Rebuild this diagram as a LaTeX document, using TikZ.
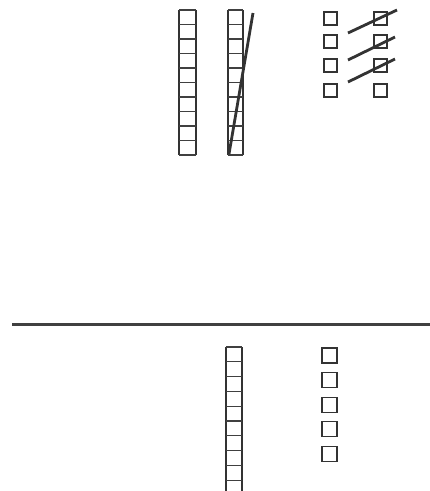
\documentclass[tikz,border=0pt]{standalone}
\begin{document}
\begin{tikzpicture}[x=1pt,y=-1pt,
  rail/.style={draw=black!80,line width=1.5pt},
  rung/.style={draw=black!75,line width=1.2pt},
  box/.style={draw=black!80,line width=1.2pt},
  slash/.style={draw=black!80,line width=2.8pt},
  ground/.style={draw=black!75,line width=3pt}]
\useasboundingbox (0,0) rectangle (430,491);
% ladder 1
\draw[rail] (179,10) -- (179,155) (196,10) -- (196,155);
\foreach \i in {0,...,10} \draw[rung] (179,10+14.5*\i) -- (196,10+14.5*\i);
% ladder 2
\draw[rail] (228,10) -- (228,155) (243,10) -- (243,155);
\foreach \i in {0,...,10} \draw[rung] (228,10+14.5*\i) -- (243,10+14.5*\i);
\draw[slash] (253,13) -- (229,154);
% boxes top
\foreach \y in {12,35,59,84} {
  \draw[box] (324,\y) rectangle (337,\y+13);
  \draw[box] (374,\y) rectangle (387,\y+13);
}
\draw[slash] (348,33) -- (397,10);
\draw[slash] (348,60) -- (395,37);
\draw[slash] (348,82) -- (395,59);
% ground line
\draw[ground] (12,324) -- (430,324);
% bottom ladder
\draw[rail] (226,347) -- (226,491) (242,347) -- (242,491);
\foreach \i in {0,...,9} \draw[rung] (226,347+14.8*\i) -- (242,347+14.8*\i);
% bottom boxes
\foreach \i in {0,...,4} \draw[box] (322,348+24.6*\i) rectangle (337,363+24.6*\i);
\end{tikzpicture}
\end{document}
